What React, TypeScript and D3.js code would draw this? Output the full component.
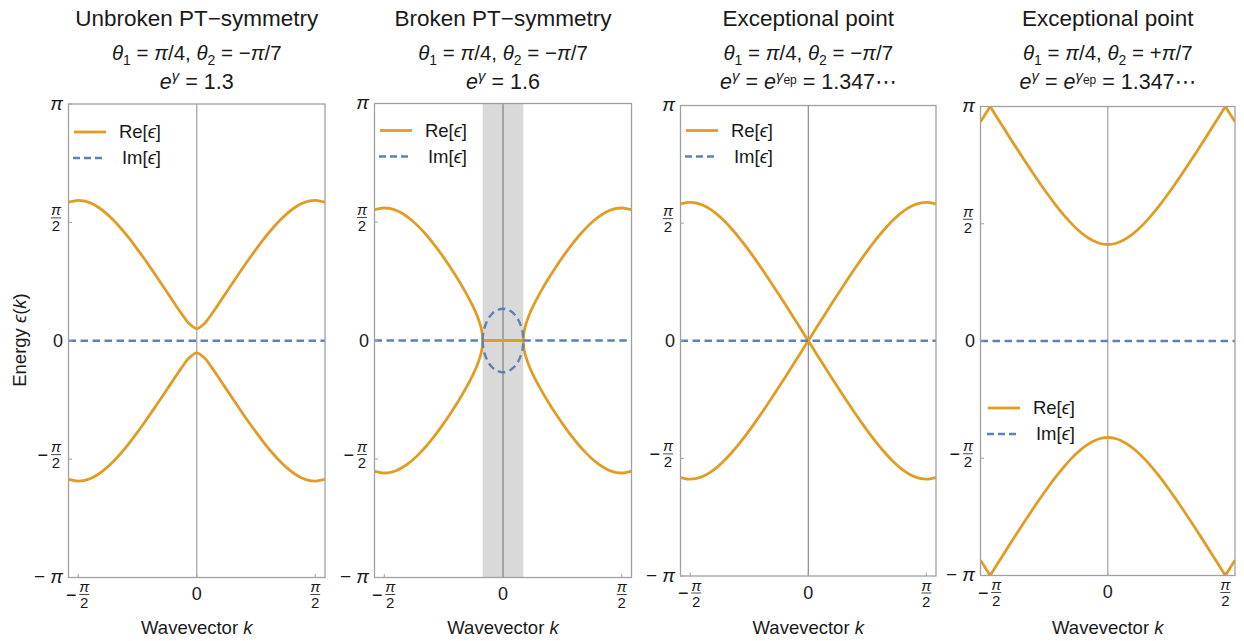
import React from "react";
import * as d3 from "d3";

const PI = Math.PI;
const HALF = Math.PI / 2;

// ---------- DATA ----------
const K_GRID = [-1.7, -1.6, -HALF, -1.5, -1.4, -1.3, -1.2, -1.1, -1.0, -0.9, -0.8, -0.7, -0.6, -0.5, -0.4, -0.3, -0.2, -0.1, 0, 0.1, 0.2, 0.3, 0.4, 0.5, 0.6, 0.7, 0.8, 0.9, 1.0, 1.1, 1.2, 1.3, 1.4, 1.5, HALF, 1.6, 1.7];

const UNBROKEN_RE_UPPER = [1.8399, 1.8608, 1.8620, 1.8553, 1.8238, 1.7680, 1.6909, 1.5957, 1.4858, 1.3641, 1.2330, 1.0947, 0.9510, 0.8035, 0.6537, 0.5037, 0.3574, 0.2268, 0.1608, 0.2268, 0.3574, 0.5037, 0.6537, 0.8035, 0.9510, 1.0947, 1.2330, 1.3641, 1.4858, 1.5957, 1.6909, 1.7680, 1.8238, 1.8553, 1.8620, 1.8608, 1.8399];
const UNBROKEN_RE_LOWER = [-1.8399, -1.8608, -1.8620, -1.8553, -1.8238, -1.7680, -1.6909, -1.5957, -1.4858, -1.3641, -1.2330, -1.0947, -0.9510, -0.8035, -0.6537, -0.5037, -0.3574, -0.2268, -0.1608, -0.2268, -0.3574, -0.5037, -0.6537, -0.8035, -0.9510, -1.0947, -1.2330, -1.3641, -1.4858, -1.5957, -1.6909, -1.7680, -1.8238, -1.8553, -1.8620, -1.8608, -1.8399];

const EP_MINUS_RE_UPPER = [1.8266, 1.8474, 1.8485, 1.8419, 1.8104, 1.7548, 1.6779, 1.5828, 1.4728, 1.3509, 1.2193, 1.0802, 0.9350, 0.7854, 0.6321, 0.4763, 0.3185, 0.1595, 0, 0.1595, 0.3185, 0.4763, 0.6321, 0.7854, 0.9350, 1.0802, 1.2193, 1.3509, 1.4728, 1.5828, 1.6779, 1.7548, 1.8104, 1.8419, 1.8485, 1.8474, 1.8266];
const EP_MINUS_RE_LOWER = [-1.8266, -1.8474, -1.8485, -1.8419, -1.8104, -1.7548, -1.6779, -1.5828, -1.4728, -1.3509, -1.2193, -1.0802, -0.9350, -0.7854, -0.6321, -0.4763, -0.3185, -0.1595, 0, -0.1595, -0.3185, -0.4763, -0.6321, -0.7854, -0.9350, -1.0802, -1.2193, -1.3509, -1.4728, -1.5828, -1.6779, -1.7548, -1.8104, -1.8419, -1.8485, -1.8474, -1.8266];

const EP_PLUS_RE_UPPER = [2.9356, 3.0949, 3.1416, 3.0286, 2.8694, 2.7112, 2.5548, 2.4007, 2.2498, 2.1032, 1.9622, 1.8283, 1.7033, 1.5895, 1.4898, 1.4072, 1.3450, 1.3063, 1.2931, 1.3063, 1.3450, 1.4072, 1.4898, 1.5895, 1.7033, 1.8283, 1.9622, 2.1032, 2.2498, 2.4007, 2.5548, 2.7112, 2.8694, 3.0286, 3.1416, 3.0949, 2.9356];
const EP_PLUS_RE_LOWER = [-2.9356, -3.0949, -3.1416, -3.0286, -2.8694, -2.7112, -2.5548, -2.4007, -2.2498, -2.1032, -1.9622, -1.8283, -1.7033, -1.5895, -1.4898, -1.4072, -1.3450, -1.3063, -1.2931, -1.3063, -1.3450, -1.4072, -1.4898, -1.5895, -1.7033, -1.8283, -1.9622, -2.1032, -2.2498, -2.4007, -2.5548, -2.7112, -2.8694, -3.0286, -3.1416, -3.0949, -2.9356];

const BROKEN_K = [-1.7, -1.6, -HALF, -1.5, -1.4, -1.3, -1.2, -1.1, -1.0, -0.9, -0.8, -0.7, -0.6, -0.5, -0.4, -0.35, -0.3, -0.28, -0.27, -0.2686, 0.2686, 0.27, 0.28, 0.3, 0.35, 0.4, 0.5, 0.6, 0.7, 0.8, 0.9, 1.0, 1.1, 1.2, 1.3, 1.4, 1.5, HALF, 1.6, 1.7];
const BROKEN_RE_UPPER = [1.7348, 1.7552, 1.7563, 1.7498, 1.7190, 1.6642, 1.5880, 1.4930, 1.3822, 1.2578, 1.1218, 0.9753, 0.8183, 0.6487, 0.4590, 0.3484, 0.2081, 0.1234, 0.0434, 0, 0, 0.0434, 0.1234, 0.2081, 0.3484, 0.4590, 0.6487, 0.8183, 0.9753, 1.1218, 1.2578, 1.3822, 1.4930, 1.5880, 1.6642, 1.7190, 1.7498, 1.7563, 1.7552, 1.7348];
const BROKEN_RE_LOWER = [-1.7348, -1.7552, -1.7563, -1.7498, -1.7190, -1.6642, -1.5880, -1.4930, -1.3822, -1.2578, -1.1218, -0.9753, -0.8183, -0.6487, -0.4590, -0.3484, -0.2081, -0.1234, -0.0434, 0, 0, -0.0434, -0.1234, -0.2081, -0.3484, -0.4590, -0.6487, -0.8183, -0.9753, -1.1218, -1.2578, -1.3822, -1.4930, -1.5880, -1.6642, -1.7190, -1.7498, -1.7563, -1.7552, -1.7348];
const BROKEN_BAND_K = [-0.2686, 0.2686];
const BROKEN_BAND_RE = [0, 0];
const BROKEN_IM_K = [-0.2686, -0.265, -0.26, -0.25, -0.2, -0.15, -0.1, -0.05, 0, 0.05, 0.1, 0.15, 0.2, 0.25, 0.26, 0.265, 0.2686];
const BROKEN_IM_UPPER = [0, 0.0680, 0.1048, 0.1530, 0.2799, 0.3483, 0.3900, 0.4131, 0.4205, 0.4131, 0.3900, 0.3483, 0.2799, 0.1530, 0.1048, 0.0680, 0];
const BROKEN_IM_LOWER = [0, -0.0680, -0.1048, -0.1530, -0.2799, -0.3483, -0.3900, -0.4131, -0.4205, -0.4131, -0.3900, -0.3483, -0.2799, -0.1530, -0.1048, -0.0680, 0];
const BROKEN_IM_OUT_K = [-1.7, -0.2686, 0.2686, 1.7];
const BROKEN_IM_OUT = [0, 0, 0, 0];
const PT_BROKEN_REGION = [-0.2686, 0.2686];

const IM_ZERO_K = [-1.7, 1.7];
const IM_ZERO = [0, 0];

const K_DOMAIN = [-1.7, 1.7];
const E_DOMAIN = [-PI, PI];
const X_TICKS = [-HALF, 0, HALF];
const Y_TICKS = [-PI, -HALF, 0, HALF, PI];

const TITLES = ["Unbroken PT\u2212symmetry", "Broken PT\u2212symmetry", "Exceptional point", "Exceptional point"];
const THETA2_SIGNS = ["\u2212", "\u2212", "\u2212", "+"];
const EGAMMA_VALUES = ["1.3", "1.6", "1.347\u22EF", "1.347\u22EF"];
const EGAMMA_IS_EP = [false, false, true, true];

type Series = { k: number[]; v: number[]; kind: "re" | "im"; breaks: number[] };
const PANEL_SERIES: Series[][] = [
  [
    { k: K_GRID, v: UNBROKEN_RE_UPPER, kind: "re", breaks: [] },
    { k: K_GRID, v: UNBROKEN_RE_LOWER, kind: "re", breaks: [] },
    { k: IM_ZERO_K, v: IM_ZERO, kind: "im", breaks: [] },
  ],
  [
    { k: BROKEN_K, v: BROKEN_RE_UPPER, kind: "re", breaks: [0] },
    { k: BROKEN_K, v: BROKEN_RE_LOWER, kind: "re", breaks: [0] },
    { k: BROKEN_BAND_K, v: BROKEN_BAND_RE, kind: "re", breaks: [] },
    { k: BROKEN_IM_OUT_K, v: BROKEN_IM_OUT, kind: "im", breaks: [0] },
    { k: BROKEN_IM_K, v: BROKEN_IM_UPPER, kind: "im", breaks: [] },
    { k: BROKEN_IM_K, v: BROKEN_IM_LOWER, kind: "im", breaks: [] },
  ],
  [
    { k: K_GRID, v: EP_MINUS_RE_UPPER, kind: "re", breaks: [0] },
    { k: K_GRID, v: EP_MINUS_RE_LOWER, kind: "re", breaks: [0] },
    { k: IM_ZERO_K, v: IM_ZERO, kind: "im", breaks: [] },
  ],
  [
    { k: K_GRID, v: EP_PLUS_RE_UPPER, kind: "re", breaks: [-HALF, HALF] },
    { k: K_GRID, v: EP_PLUS_RE_LOWER, kind: "re", breaks: [-HALF, HALF] },
    { k: IM_ZERO_K, v: IM_ZERO, kind: "im", breaks: [] },
  ],
];

// ---------- LAYOUT / STYLE ----------
const LAYOUT = [
  { x0: 68.5, x1: 325, y0: 104, y1: 577.5, lx: 74, ly: 132, zc: "#b0b0b0", zw: 1.4 },
  { x0: 374.5, x1: 631.5, y0: 103.5, y1: 577.5, lx: 380, ly: 130.5, zc: "#707070", zw: 1 },
  { x0: 680.5, x1: 936, y0: 105.5, y1: 576, lx: 686, ly: 130.5, zc: "#707070", zw: 1 },
  { x0: 980.5, x1: 1235, y0: 106.5, y1: 575.5, lx: 988, ly: 408, zc: "#b0b0b0", zw: 1.4 },
];
const FONT = '"Liberation Sans", Arial, "DejaVu Sans", sans-serif';
const ORANGE = "#E19C24";
const BLUE = "#5E81B5";
const FRAME = "#a0a0a0";
const TXT = "#1a1a1a";

function splitSegments(ks: number[], vs: number[], breaks: number[]) {
  const segs: [number, number][][] = [];
  let cur: [number, number][] = [];
  for (let i = 0; i < ks.length; i++) {
    const k = ks[i], v = vs[i];
    if (cur.length) {
      const pk = cur[cur.length - 1][0];
      if (breaks.some((b) => pk < b && b < k)) {
        segs.push(cur);
        cur = [];
      }
    }
    cur.push([k, v]);
    if (breaks.some((b) => Math.abs(b - k) < 1e-9)) {
      segs.push(cur);
      cur = [[k, v]];
    }
  }
  segs.push(cur);
  return segs.filter((s) => s.length > 1);
}

function PiFrac({ x, y }: { x: number; y: number }) {
  return (
    <g>
      <text x={x} y={y - 2.5} textAnchor="middle" fontSize={15} fontStyle="italic" fill={TXT}>π</text>
      <line x1={x - 5} x2={x + 5} y1={y} y2={y} stroke={TXT} strokeWidth={0.8} />
      <text x={x} y={y + 13.5} textAnchor="middle" fontSize={15} fill={TXT}>2</text>
    </g>
  );
}

function Panel({ idx }: { idx: number }) {
  const L = LAYOUT[idx];
  const x = d3.scaleLinear().domain(K_DOMAIN).range([L.x0, L.x1]);
  const y = d3.scaleLinear().domain(E_DOMAIN).range([L.y1, L.y0]);
  const line = d3
    .line<[number, number]>()
    .x((d) => x(d[0]))
    .y((d) => y(d[1]))
    .curve(d3.curveCatmullRom.alpha(0.5));
  const cx = (L.x0 + L.x1) / 2;
  const clipId = `clip${idx}`;
  const series = PANEL_SERIES[idx];
  const reS = series.filter((s) => s.kind === "re");
  const imS = series.filter((s) => s.kind === "im");

  const yLabel = (t: number) => {
    const rx = L.x0 - 5.5;
    const ty = y(t);
    if (t === 0)
      return <text key={t} x={rx} y={ty} dy="0.35em" textAnchor="end" fontSize={18} fill={TXT}>0</text>;
    if (Math.abs(t) === PI)
      return (
        <text key={t} x={rx} y={ty} dy="0.3em" textAnchor="end" fontSize={19} fill={TXT}>
          {t < 0 ? "\u2212 " : ""}
          <tspan fontStyle="italic">π</tspan>
        </text>
      );
    const fx = L.x0 - 12.5;
    return (
      <g key={t}>
        {t < 0 && (
          <text x={fx - 8} y={ty - 4.5} dy="0.35em" textAnchor="end" fontSize={18} fill={TXT}>{"\u2212"}</text>
        )}
        <PiFrac x={fx} y={ty - 4.5} />
      </g>
    );
  };

  const xLabel = (t: number) => {
    const tx = x(t);
    const by = L.y1;
    if (t === 0)
      return <text key={t} x={tx} y={by + 22.5} textAnchor="middle" fontSize={18} fill={TXT}>0</text>;
    if (t > 0) return <PiFrac key={t} x={tx} y={by + 17} />;
    return (
      <g key={t}>
        <text x={tx - 7} y={by + 17} dy="0.35em" textAnchor="middle" fontSize={18} fill={TXT}>{"\u2212"}</text>
        <PiFrac x={tx + 6} y={by + 17} />
      </g>
    );
  };

  return (
    <g fontFamily={FONT}>
      <defs>
        <clipPath id={clipId}>
          <rect x={L.x0} y={L.y0} width={L.x1 - L.x0} height={L.y1 - L.y0} />
        </clipPath>
      </defs>
      {/* titles */}
      <text x={cx} y={26} textAnchor="middle" fontSize={22.5} fill={TXT}>{TITLES[idx]}</text>
      <text x={cx} y={60} textAnchor="middle" fontSize={20.5} fill={TXT}>
        <tspan fontStyle="italic">θ</tspan>
        <tspan fontSize={14} dy={5}>1</tspan>
        <tspan dy={-5}>{" = "}</tspan>
        <tspan fontStyle="italic">π</tspan>
        <tspan>{"/4, "}</tspan>
        <tspan fontStyle="italic">θ</tspan>
        <tspan fontSize={14} dy={5}>2</tspan>
        <tspan dy={-5}>{" = " + THETA2_SIGNS[idx]}</tspan>
        <tspan fontStyle="italic">π</tspan>
        <tspan>/7</tspan>
      </text>
      <text x={cx} y={88.5} textAnchor="middle" fontSize={21.5} fill={TXT}>
        <tspan fontStyle="italic">e</tspan>
        <tspan fontStyle="italic" fontSize={15} dy={-8}>γ</tspan>
        {EGAMMA_IS_EP[idx] ? (
          <>
            <tspan dy={8}>{" = "}</tspan>
            <tspan fontStyle="italic">e</tspan>
            <tspan fontStyle="italic" fontSize={15} dy={-8}>γ</tspan>
            <tspan fontSize={12} dy={3}>ep</tspan>
            <tspan dy={5}>{" = " + EGAMMA_VALUES[idx]}</tspan>
          </>
        ) : (
          <tspan dy={8}>{" = " + EGAMMA_VALUES[idx]}</tspan>
        )}
      </text>

      {idx === 1 && (
        <rect
          x={x(PT_BROKEN_REGION[0])}
          y={L.y0}
          width={x(PT_BROKEN_REGION[1]) - x(PT_BROKEN_REGION[0])}
          height={L.y1 - L.y0}
          fill="#d9d9d9"
        />
      )}
      <line x1={x(0)} x2={x(0)} y1={L.y0} y2={L.y1} stroke={L.zc} strokeWidth={L.zw} />

      <g clipPath={`url(#${clipId})`} fill="none">
        {reS.map((s, i) =>
          splitSegments(s.k, s.v, s.breaks).map((seg, j) => (
            <path key={`re${i}-${j}`} d={line(seg) || ""} stroke={ORANGE} strokeWidth={2.8} strokeLinejoin="round" />
          ))
        )}
        {imS.map((s, i) =>
          splitSegments(s.k, s.v, s.breaks).map((seg, j) => (
            <path key={`im${i}-${j}`} d={line(seg) || ""} stroke={BLUE} strokeWidth={2.4} strokeDasharray="7.5,4.5" />
          ))
        )}
      </g>

      <rect x={L.x0} y={L.y0} width={L.x1 - L.x0} height={L.y1 - L.y0} fill="none" stroke={FRAME} strokeWidth={1.3} />
      {Y_TICKS.map((t) => (
        <line key={`yt${t}`} x1={L.x0} x2={L.x0 + 3.5} y1={y(t)} y2={y(t)} stroke={FRAME} strokeWidth={1} />
      ))}
      {X_TICKS.map((t) => (
        <line key={`xt${t}`} x1={x(t)} x2={x(t)} y1={L.y1} y2={L.y1 - 3.5} stroke={FRAME} strokeWidth={1} />
      ))}
      {Y_TICKS.map(yLabel)}
      {X_TICKS.map(xLabel)}

      <text x={cx} y={634} textAnchor="middle" fontSize={18.5} fill={TXT}>
        {"Wavevector "}
        <tspan fontStyle="italic">k</tspan>
      </text>

      <line x1={L.lx} x2={L.lx + 32} y1={L.ly} y2={L.ly} stroke={ORANGE} strokeWidth={2.8} />
      <line x1={L.lx - 1} x2={L.lx + 32} y1={L.ly + 26} y2={L.ly + 26} stroke={BLUE} strokeWidth={2.4} strokeDasharray="7,4" />
      <text x={L.lx + 87} y={L.ly} dy="0.35em" textAnchor="end" fontSize={18.5} fill={TXT}>
        {"Re["}
        <tspan fontStyle="italic">ϵ</tspan>
        {"]"}
      </text>
      <text x={L.lx + 87} y={L.ly + 26} dy="0.35em" textAnchor="end" fontSize={18.5} fill={TXT}>
        {"Im["}
        <tspan fontStyle="italic">ϵ</tspan>
        {"]"}
      </text>
    </g>
  );
}

export default function App() {
  return (
    <svg
      width={1244}
      height={641}
      style={{ position: "absolute", left: 0, top: 0, background: "#fff" }}
      fontFamily={FONT}
    >
      <rect width={1244} height={641} fill="#fff" />
      {[0, 1, 2, 3].map((i) => (
        <Panel key={i} idx={i} />
      ))}
      <text transform="translate(20,340) rotate(-90)" textAnchor="middle" dy="0.35em" fontSize={18.5} fill={TXT}>
        {"Energy "}
        <tspan fontStyle="italic">ϵ</tspan>
        {"("}
        <tspan fontStyle="italic">k</tspan>
        {")"}
      </text>
    </svg>
  );
}
